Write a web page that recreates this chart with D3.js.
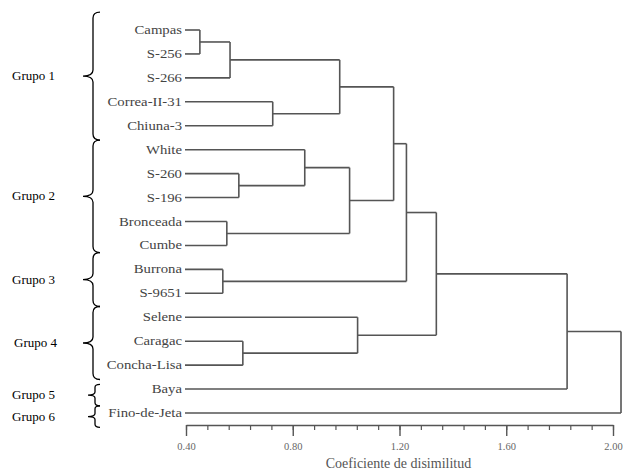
<!DOCTYPE html>
<html>
<head>
<meta charset="utf-8">
<script src="https://cdn.jsdelivr.net/npm/d3@7"></script>
<style>
  body { margin: 0; background: #fff; }
  svg { display: block; }
</style>
</head>
<body>
<div id="chart"></div>
<script>
// leaves, top to bottom
var leaves = ["Campas", "S-256", "S-266", "Correa-II-31", "Chiuna-3", "White", "S-260", "S-196",
	"Bronceada", "Cumbe", "Burrona", "S-9651", "Selene", "Caragac", "Concha-Lisa", "Baya", "Fino-de-Jeta"];

// merges: node 17 + i joins mergeA[i] and mergeB[i] at mergeHeight[i]
var mergeA = [0, 17, 3, 18, 6, 5, 8, 22, 20, 10, 25, 13, 12, 27, 30, 31];
var mergeB = [1, 2, 4, 19, 7, 21, 9, 23, 24, 11, 26, 14, 28, 29, 15, 16];
var mergeHeight = [0.452, 0.565, 0.725, 0.976, 0.598, 0.845, 0.553, 1.013, 1.178, 0.538, 1.226, 0.613, 1.043, 1.338, 1.828, 2.03];

var majorTicks = [0.40, 0.80, 1.20, 1.60, 2.00];
var minorTicks = d3.range(0, 21).map(function(i){ return 0.40 + i * 0.08; });

// groups: label and span in leaf-index units
var groupNames = ["Grupo 1", "Grupo 2", "Grupo 3", "Grupo 4", "Grupo 5", "Grupo 6"];
var groupStart = [-0.75, 4.6, 9.3, 11.55, 14.8, 15.7];
var groupEnd = [4.6, 9.3, 11.55, 14.6, 15.7, 16.6];

var width = 625, height = 474;
var svg = d3.select("#chart").append("svg")
	.attr("width", width)
	.attr("height", height);

var x = d3.scaleLinear().domain([0.40, 2.00]).range([186, 613]);
var yIdx = d3.scaleLinear().domain([0, leaves.length - 1]).range([30, 413]);

// node positions
var nodeY = leaves.map(function(d, i){ return yIdx(i); });
var nodeH = leaves.map(function(){ return 0.40; });
mergeA.forEach(function(a, i){
	var b = mergeB[i];
	nodeY.push((nodeY[a] + nodeY[b]) / 2);
	nodeH.push(mergeHeight[i]);
});

var lineColor = "#555";
var tree = svg.append("g")
	.attr("stroke", lineColor)
	.attr("stroke-width", 1.6)
	.attr("fill", "none");

mergeA.forEach(function(a, i){
	var b = mergeB[i];
	var h = mergeHeight[i];
	[a, b].forEach(function(c){
		tree.append("line")
			.attr("x1", c < leaves.length ? x(0.40) - 1 : x(nodeH[c]))
			.attr("x2", x(h))
			.attr("y1", nodeY[c])
			.attr("y2", nodeY[c]);
	});
	tree.append("line")
		.attr("x1", x(h))
		.attr("x2", x(h))
		.attr("y1", nodeY[a])
		.attr("y2", nodeY[b]);
});

// leaf labels (the original type is wide and short, so stretch it a little)
svg.append("g").selectAll("text")
	.data(leaves)
	.enter()
	.append("text")
	.attr("transform", function(d, i){ return "translate(182," + (yIdx(i) + 4) + ") scale(1.18,1)"; })
	.attr("text-anchor", "end")
	.attr("font-family", "Liberation Serif, serif")
	.attr("font-size", 12.5)
	.attr("fill", "#444")
	.text(function(d){ return d; });

// axis
var axisY = 425;
var minorAxis = d3.axisBottom(x).tickValues(minorTicks).tickSize(5).tickSizeOuter(0).tickFormat("");
var majorAxis = d3.axisBottom(x).tickValues(majorTicks).tickSize(11).tickSizeOuter(0).tickFormat(d3.format(".2f"));

var gMinor = svg.append("g").attr("transform", "translate(0," + axisY + ")").call(minorAxis);
var gMajor = svg.append("g").attr("transform", "translate(0," + axisY + ")").call(majorAxis);
gMajor.select(".domain").remove();
gMinor.select(".domain").attr("stroke", lineColor).attr("stroke-width", 1.4);
gMinor.selectAll("line").attr("stroke", lineColor).attr("stroke-width", 1.2);
gMajor.selectAll("line").attr("stroke", lineColor).attr("stroke-width", 1.4);
gMajor.selectAll("text")
	.attr("font-family", "Liberation Serif, serif")
	.attr("font-size", 10.5)
	.attr("fill", "#666")
	.attr("y", 25)
	.attr("dy", 0);

svg.append("text")
	.attr("x", x(1.20) - 1)
	.attr("y", 468)
	.attr("text-anchor", "middle")
	.attr("font-family", "Liberation Serif, serif")
	.attr("font-size", 14)
	.attr("fill", "#555")
	.text("Coeficiente de disimilitud");

// group braces
var braces = svg.append("g")
	.attr("stroke", "#000")
	.attr("stroke-width", 1.3)
	.attr("fill", "none");

groupNames.forEach(function(name, i){
	var top = yIdx(groupStart[i]);
	var bot = yIdx(groupEnd[i]);
	var mid = (top + bot) / 2;
	var small = (bot - top) < 40;
	var xr = 100, xs = small ? 95 : 93, xt = small ? 88 : 83;
	var r = small ? 3 : 6;
	var p = "M" + xr + "," + top +
		" Q" + xs + "," + top + " " + xs + "," + (top + r) +
		" L" + xs + "," + (mid - r) +
		" Q" + xs + "," + mid + " " + xt + "," + mid +
		" Q" + xs + "," + mid + " " + xs + "," + (mid + r) +
		" L" + xs + "," + (bot - r) +
		" Q" + xs + "," + bot + " " + xr + "," + bot;
	braces.append("path").attr("d", p);

	svg.append("text")
		.attr("x", i == 3 ? 14 : 12)
		.attr("y", mid + 4)
		.attr("font-family", "Liberation Serif, serif")
		.attr("font-size", 13)
		.attr("fill", "#000")
		.text(name);
});
</script>
</body>
</html>
